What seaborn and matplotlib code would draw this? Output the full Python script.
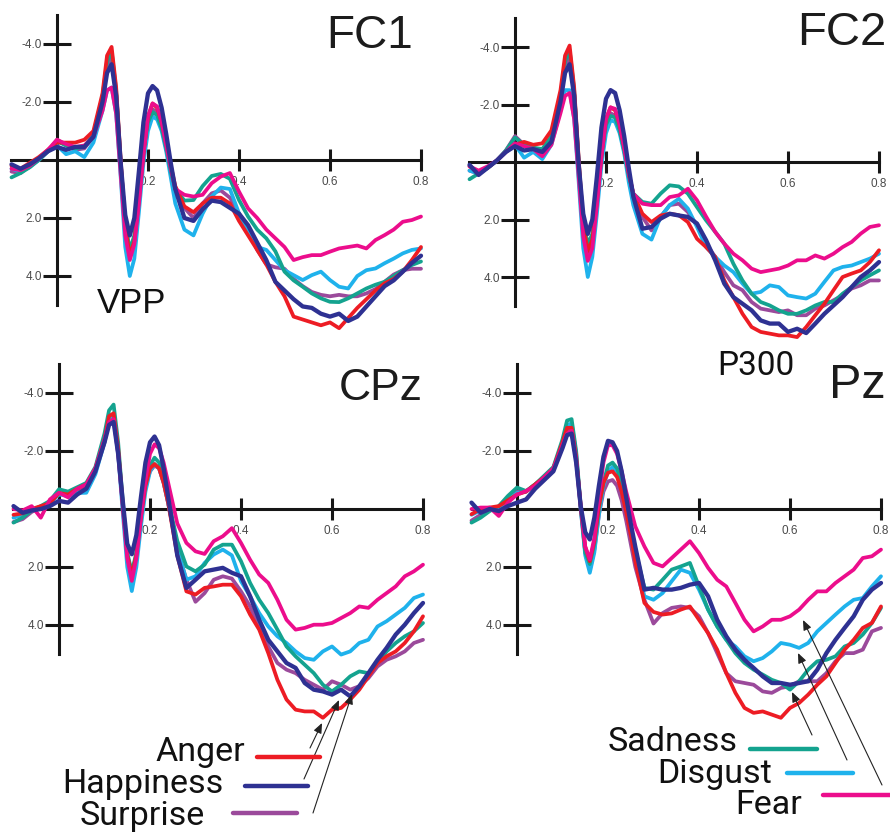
import matplotlib
matplotlib.use("Agg")
import matplotlib.pyplot as plt
import seaborn as sns
from matplotlib.lines import Line2D
from matplotlib.patches import FancyArrowPatch

sns.set_theme(style="ticks")
plt.rcParams['font.family'] = ['Liberation Sans', 'DejaVu Sans']

# ---------------------------------------------------------------- data
# time in seconds (stimulus onset at 0)
TIME = [-0.10, -0.08, -0.06, -0.04, -0.02, 0.00, 0.02, 0.04, 0.06, 0.08,
        0.10, 0.11, 0.12, 0.13, 0.14, 0.15, 0.16, 0.17, 0.18, 0.19, 0.20, 0.21, 0.22, 0.23, 0.24, 0.25, 0.26,
        0.28, 0.30, 0.32, 0.34, 0.36, 0.38, 0.40, 0.42, 0.44, 0.46, 0.48, 0.50, 0.52, 0.54, 0.56, 0.58,
        0.60, 0.62, 0.64, 0.66, 0.68, 0.70, 0.72, 0.74, 0.76, 0.78, 0.80]

EMOTIONS = ["Surprise", "Disgust", "Sadness", "Anger", "Fear", "Happiness"]
COLORS = {"Anger": "#ED1C24", "Happiness": "#2E3192", "Surprise": "#9B4A9B",
          "Sadness": "#14A38F", "Disgust": "#1FB2EC", "Fear": "#EC0D8C"}

# amplitudes in microvolts (negative plotted upward)
FC1_ANGER = [0.2, 0.3, 0.1, -0.1, -0.35, -0.6, -0.6, -0.6, -0.7, -1.0,
             -2.3, -3.6, -3.9, -2.5, 0.0, 2.3, 3.3, 2.8, 1.4, -0.2, -1.5, -1.95, -1.8, -1.3, -0.6, 0.2, 0.9,
             1.6, 1.8, 1.5, 1.3, 1.3, 1.5, 2.1, 2.6, 3.1, 3.6, 4.2, 4.7, 5.4, 5.5, 5.6, 5.7,
             5.6, 5.8, 5.45, 5.1, 4.8, 4.5, 4.25, 4.1, 3.85, 3.45, 3.0]
FC1_HAPPINESS = [0.15, 0.3, 0.15, -0.05, -0.3, -0.45, -0.35, -0.45, -0.45, -0.8,
                 -2.0, -3.0, -3.3, -2.2, 0.1, 1.9, 2.6, 2.0, 0.4, -1.3, -2.3, -2.55, -2.4, -1.8, -0.9, 0.1, 1.0,
                 2.0, 2.1, 1.7, 1.4, 1.45, 1.65, 1.85, 2.25, 2.85, 3.45, 4.2, 4.5, 4.8, 5.05, 5.1, 5.3,
                 5.4, 5.3, 5.55, 5.4, 5.05, 4.7, 4.35, 4.15, 3.85, 3.55, 3.3]
FC1_SURPRISE = [0.4, 0.45, 0.2, 0.0, -0.3, -0.7, -0.5, -0.35, -0.4, -0.8,
                -2.1, -3.2, -3.5, -2.3, 0.1, 2.2, 3.2, 2.7, 1.3, -0.2, -1.3, -1.75, -1.65, -1.2, -0.5, 0.3, 1.0,
                1.65, 2.0, 1.5, 1.15, 1.05, 1.3, 1.85, 2.4, 3.1, 3.6, 3.7, 3.75, 4.1, 4.35, 4.55, 4.65,
                4.7, 4.65, 4.7, 4.7, 4.6, 4.45, 4.2, 3.95, 3.8, 3.75, 3.75]
FC1_SADNESS = [0.6, 0.45, 0.25, 0.0, -0.3, -0.65, -0.5, -0.4, -0.45, -0.9,
               -2.2, -3.4, -3.75, -2.4, 0.1, 2.2, 3.1, 2.6, 1.2, -0.3, -1.3, -1.65, -1.55, -1.1, -0.4, 0.4, 1.0,
               1.4, 1.38, 0.9, 0.55, 0.48, 0.65, 1.38, 1.95, 2.4, 2.7, 3.15, 3.85, 4.15, 4.37, 4.6, 4.77,
               4.89, 4.9, 4.77, 4.6, 4.43, 4.3, 4.2, 4.0, 3.8, 3.62, 3.5]
FC1_DISGUST = [0.3, 0.4, 0.25, 0.0, -0.3, -0.5, -0.2, -0.3, -0.1, -0.6,
               -1.7, -2.4, -2.5, -1.6, 0.6, 3.0, 4.0, 3.4, 1.8, 0.1, -1.0, -1.5, -1.4, -1.0, -0.3, 0.6, 1.5,
               2.4, 2.6, 1.85, 1.26, 0.95, 1.0, 1.84, 2.5, 3.0, 3.1, 3.45, 3.8, 3.97, 4.14, 3.97, 3.85,
               4.14, 4.37, 4.43, 4.0, 3.8, 3.74, 3.56, 3.4, 3.22, 3.1, 3.05]
FC1_FEAR = [0.3, 0.35, 0.2, -0.05, -0.35, -0.7, -0.55, -0.45, -0.5, -0.8,
            -1.7, -2.4, -2.5, -1.6, 0.5, 2.6, 3.45, 2.9, 1.5, -0.2, -1.5, -1.95, -1.85, -1.3, -0.5, 0.3, 1.0,
            1.2, 1.26, 1.2, 0.8, 0.57, 0.45, 1.09, 1.67, 2.0, 2.4, 2.7, 3.0, 3.45, 3.35, 3.28, 3.28,
            3.16, 3.05, 3.0, 2.95, 3.05, 2.76, 2.59, 2.4, 2.13, 2.07, 1.95]

FC2_ANGER = [0.15, 0.35, 0.2, -0.05, -0.35, -0.6, -0.7, -0.6, -0.65, -1.1,
             -2.5, -3.7, -4.05, -2.6, -0.1, 2.2, 3.1, 2.7, 1.4, -0.2, -1.5, -1.9, -1.8, -1.3, -0.5, 0.4, 1.1,
             1.8, 2.09, 1.86, 1.8, 1.85, 2.09, 2.67, 2.96, 3.3, 4.12, 4.7, 5.28, 5.74, 5.91, 5.97, 6.03,
             6.03, 6.09, 5.74, 5.33, 4.93, 4.46, 4.0, 3.88, 3.77, 3.48, 3.07]
FC2_HAPPINESS = [0.1, 0.45, 0.2, -0.05, -0.35, -0.55, -0.4, -0.45, -0.35, -0.7,
                 -2.1, -3.1, -3.4, -2.3, 0.1, 1.8, 2.5, 2.0, 0.5, -1.2, -2.2, -2.5, -2.4, -1.8, -0.9, 0.2, 1.2,
                 2.32, 2.26, 1.97, 1.8, 1.86, 1.91, 2.14, 2.72, 3.42, 4.23, 4.7, 4.93, 5.16, 5.51, 5.62, 5.62,
                 5.91, 5.8, 5.95, 5.62, 5.28, 4.99, 4.7, 4.35, 4.0, 3.77, 3.48]
FC2_SURPRISE = [0.3, 0.4, 0.2, -0.05, -0.4, -0.9, -0.6, -0.45, -0.4, -0.8,
                -2.2, -3.3, -3.6, -2.4, 0.1, 2.2, 3.2, 2.8, 1.4, -0.1, -1.3, -1.7, -1.6, -1.2, -0.4, 0.5, 1.2,
                1.91, 2.38, 1.91, 1.5, 1.45, 1.74, 2.2, 2.84, 3.3, 3.83, 4.29, 4.46, 4.87, 5.1, 5.16, 5.22,
                5.16, 5.33, 5.33, 5.1, 4.99, 4.81, 4.64, 4.4, 4.29, 4.12, 4.12]
FC2_SADNESS = [0.6, 0.4, 0.2, -0.05, -0.4, -0.85, -0.6, -0.5, -0.45, -0.9,
               -2.3, -3.5, -3.9, -2.5, 0.0, 2.1, 2.86, 2.5, 1.3, -0.2, -1.3, -1.6, -1.55, -1.1, -0.4, 0.5, 1.1,
               1.39, 1.45, 1.1, 0.81, 0.85, 1.1, 1.57, 2.03, 2.43, 2.84, 3.54, 4.12, 4.58, 4.87, 4.99, 5.16,
               5.28, 5.28, 5.16, 4.99, 4.87, 4.87, 4.58, 4.35, 4.12, 3.94, 3.77]
FC2_DISGUST = [0.3, 0.4, 0.2, -0.05, -0.35, -0.6, -0.15, -0.35, -0.1, -0.6,
               -1.8, -2.5, -2.5, -1.5, 0.7, 3.0, 4.0, 3.3, 1.8, 0.1, -1.0, -1.45, -1.4, -1.0, -0.3, 0.7, 1.5,
               2.5, 2.7, 1.91, 1.5, 1.28, 1.62, 2.26, 2.96, 3.3, 3.6, 3.83, 4.23, 4.58, 4.52, 4.29, 4.35,
               4.64, 4.7, 4.75, 4.58, 4.17, 3.77, 3.65, 3.6, 3.48, 3.36, 3.19]
FC2_FEAR = [0.15, 0.3, 0.15, -0.05, -0.35, -0.65, -0.55, -0.45, -0.2, -0.6,
            -1.7, -2.3, -2.4, -1.5, 0.5, 2.6, 3.44, 3.0, 1.5, -0.2, -1.5, -1.9, -1.85, -1.3, -0.5, 0.4, 1.1,
            1.45, 1.5, 1.5, 1.22, 1.16, 0.93, 1.33, 1.9, 2.43, 2.84, 3.19, 3.42, 3.71, 3.83, 3.77, 3.71,
            3.6, 3.42, 3.42, 3.25, 3.36, 3.19, 2.96, 2.78, 2.49, 2.26, 2.2]

CPZ_ANGER = [0.2, 0.15, 0.0, -0.1, -0.2, -0.55, -0.5, -0.7, -0.85, -1.4,
             -2.4, -3.2, -3.3, -2.1, -0.2, 1.6, 2.3, 1.6, 0.3, -0.8, -1.4, -1.55, -1.4, -0.9, -0.2, 0.7, 1.6,
             2.84, 2.95, 2.72, 2.67, 2.61, 2.61, 3.01, 3.64, 4.16, 4.97, 5.89, 6.57, 6.92, 6.98, 6.98, 7.2,
             6.92, 6.86, 6.57, 6.23, 5.77, 5.31, 5.08, 4.91, 4.62, 4.22, 3.7]
CPZ_HAPPINESS = [-0.1, 0.13, 0.05, 0.0, -0.1, -0.28, -0.22, -0.5, -0.7, -1.3,
                 -2.3, -2.9, -3.0, -1.9, -0.3, 1.2, 1.56, 0.9, -0.4, -1.6, -2.3, -2.5, -2.2, -1.4, -0.4, 0.6, 1.6,
                 2.72, 2.44, 2.15, 2.09, 2.03, 2.2, 2.32, 3.01, 3.82, 4.51, 4.91, 5.31, 5.48, 6.0, 6.23, 6.29,
                 6.4, 6.23, 6.46, 6.11, 5.66, 5.2, 4.79, 4.33, 3.99, 3.59, 3.24]
CPZ_SURPRISE = [0.45, 0.35, 0.1, -0.05, -0.2, -0.55, -0.45, -0.65, -0.8, -1.35,
                -2.3, -3.1, -3.2, -2.0, -0.1, 1.6, 2.2, 1.6, 0.3, -0.8, -1.3, -1.5, -1.4, -0.9, -0.2, 0.6, 1.4,
                2.44, 3.2, 2.9, 2.44, 2.32, 2.4, 2.84, 3.36, 4.1, 4.74, 5.31, 5.54, 5.66, 5.89, 6.06, 6.23,
                5.94, 6.06, 6.23, 6.11, 5.83, 5.43, 5.2, 5.08, 4.91, 4.62, 4.51]
CPZ_SADNESS = [0.47, 0.3, 0.05, -0.1, -0.28, -0.68, -0.6, -0.75, -0.9, -1.45,
               -2.6, -3.4, -3.6, -2.3, -0.3, 1.5, 2.2, 1.5, 0.2, -0.9, -1.5, -1.77, -1.6, -1.1, -0.4, 0.4, 1.1,
               1.98, 2.15, 1.92, 1.4, 1.23, 1.23, 1.8, 2.55, 3.13, 3.59, 4.16, 4.74, 5.08, 5.37, 5.66, 6.06,
               6.29, 6.06, 5.77, 5.6, 5.66, 5.31, 4.91, 4.62, 4.39, 4.22, 3.93]
CPZ_DISGUST = [0.3, 0.2, 0.05, -0.05, -0.2, -0.5, -0.45, -0.55, -0.56, -1.2,
               -2.3, -3.1, -3.2, -1.9, 0.1, 2.0, 2.83, 2.0, 0.6, -0.6, -1.3, -1.55, -1.4, -0.9, -0.2, 0.6, 1.4,
               2.44, 2.32, 1.86, 1.57, 1.4, 1.6, 2.49, 3.01, 3.59, 4.05, 4.39, 4.62, 4.91, 5.14, 5.2, 4.91,
               4.74, 5.02, 4.91, 4.62, 4.51, 4.05, 3.87, 3.64, 3.41, 3.07, 2.95]
CPZ_FEAR = [0.0, 0.05, -0.1, 0.3, -0.33, -0.56, -0.4, -0.7, -0.85, -1.4,
            -2.4, -3.0, -3.1, -1.9, -0.1, 1.7, 2.48, 1.7, 0.3, -1.0, -1.9, -2.23, -2.1, -1.6, -0.9, -0.2, 0.5,
            1.17, 1.46, 1.55, 1.11, 0.94, 0.66, 1.17, 1.75, 2.26, 2.55, 3.13, 3.82, 4.16, 4.1, 3.99, 3.99,
            3.93, 3.76, 3.59, 3.36, 3.41, 3.13, 2.9, 2.67, 2.32, 2.15, 1.92]

PZ_ANGER = [0.18, 0.0, -0.05, -0.1, -0.3, -0.5, -0.6, -0.85, -1.1, -1.4,
            -2.3, -2.8, -2.8, -1.8, -0.1, 1.3, 1.8, 1.1, -0.1, -0.9, -1.25, -1.3, -1.1, -0.6, 0.1, 0.9, 1.8,
            3.24, 3.55, 3.64, 3.6, 3.47, 3.36, 3.82, 4.28, 4.85, 5.66, 6.34, 6.86, 7.03, 6.98, 7.09, 7.2,
            6.86, 6.69, 6.4, 6.06, 5.77, 5.31, 4.85, 4.51, 4.1, 3.93, 3.36]
PZ_HAPPINESS = [-0.22, 0.13, 0.0, 0.07, -0.1, -0.22, -0.33, -0.7, -1.0, -1.3,
                -2.1, -2.55, -2.6, -1.6, -0.1, 0.8, 1.05, 0.3, -0.8, -1.8, -2.35, -2.3, -2.0, -1.3, -0.4, 0.5, 1.3,
                2.78, 2.72, 2.78, 2.78, 2.72, 2.61, 2.55, 3.01, 3.82, 4.39, 4.85, 5.2, 5.48, 5.77, 6.0, 6.0,
                6.06, 6.0, 5.94, 5.54, 4.97, 4.51, 4.1, 3.7, 3.13, 2.78, 2.55]
PZ_SURPRISE = [0.4, 0.2, 0.0, -0.05, -0.3, -0.6, -0.6, -0.85, -1.1, -1.4,
               -2.2, -2.7, -2.7, -1.7, 0.0, 1.5, 2.1, 1.4, 0.2, -0.6, -0.95, -1.0, -0.8, -0.3, 0.4, 1.2, 2.0,
               3.13, 3.95, 3.59, 3.41, 3.36, 3.41, 3.7, 4.28, 4.97, 5.66, 5.94, 6.0, 6.06, 6.29, 6.34, 6.17,
               6.11, 5.94, 5.94, 5.94, 5.66, 5.25, 4.97, 4.97, 4.85, 4.22, 4.1]
PZ_SADNESS = [0.47, 0.3, 0.07, -0.1, -0.45, -0.74, -0.62, -0.85, -1.15, -1.45,
              -2.4, -3.05, -3.1, -2.0, -0.1, 1.5, 1.9, 1.2, 0.0, -0.9, -1.5, -1.6, -1.4, -0.9, -0.2, 0.6, 1.4,
              2.72, 2.78, 2.44, 2.09, 1.98, 1.86, 2.67, 3.47, 4.05, 4.51, 4.97, 5.31, 5.54, 5.71, 5.89, 6.0,
              6.23, 5.94, 5.54, 5.25, 5.2, 5.08, 4.74, 4.62, 4.33, 3.93, 3.41]
PZ_DISGUST = [0.2, 0.05, 0.0, -0.05, -0.3, -0.55, -0.6, -0.85, -1.1, -1.4,
              -2.3, -2.9, -2.95, -1.9, 0.0, 1.6, 2.2, 1.5, 0.2, -0.8, -1.3, -1.45, -1.3, -0.8, -0.1, 0.8, 1.7,
              3.01, 3.13, 2.9, 2.49, 2.09, 2.2, 2.78, 3.47, 4.05, 4.51, 4.74, 5.08, 5.25, 5.14, 4.91, 4.62,
              4.68, 4.79, 4.62, 4.22, 3.93, 3.64, 3.36, 3.13, 3.07, 2.67, 2.32]
PZ_FEAR = [0.0, -0.05, -0.05, 0.24, -0.22, -0.5, -0.62, -0.8, -1.1, -1.4,
           -2.2, -2.6, -2.7, -1.7, -0.1, 1.3, 1.74, 1.0, -0.4, -1.6, -2.2, -2.2, -1.9, -1.3, -0.6, 0.0, 0.6,
           1.29, 1.86, 1.98, 1.69, 1.4, 1.11, 1.52, 2.03, 2.44, 2.67, 3.24, 3.82, 4.22, 4.05, 3.82, 3.82,
           3.7, 3.47, 3.13, 2.84, 2.84, 2.55, 2.32, 2.09, 1.69, 1.63, 1.4]

PANELS = {
    "FC1": {"Anger": FC1_ANGER, "Happiness": FC1_HAPPINESS, "Surprise": FC1_SURPRISE,
            "Sadness": FC1_SADNESS, "Disgust": FC1_DISGUST, "Fear": FC1_FEAR},
    "FC2": {"Anger": FC2_ANGER, "Happiness": FC2_HAPPINESS, "Surprise": FC2_SURPRISE,
            "Sadness": FC2_SADNESS, "Disgust": FC2_DISGUST, "Fear": FC2_FEAR},
    "CPz": {"Anger": CPZ_ANGER, "Happiness": CPZ_HAPPINESS, "Surprise": CPZ_SURPRISE,
            "Sadness": CPZ_SADNESS, "Disgust": CPZ_DISGUST, "Fear": CPZ_FEAR},
    "Pz": {"Anger": PZ_ANGER, "Happiness": PZ_HAPPINESS, "Surprise": PZ_SURPRISE,
           "Sadness": PZ_SADNESS, "Disgust": PZ_DISGUST, "Fear": PZ_FEAR},
}

X_TICKS = [0.2, 0.4, 0.6, 0.8]
X_TICK_LABELS = ["0.2", "0.4", "0.6", "0.8"]
Y_TICKS = [-4, -2, 2, 4]
Y_TICK_LABELS = ["-4.0", "-2.0", "2.0", "4.0"]

# ---------------------------------------------------------------- layout
W, H = 890, 834
fig = plt.figure(figsize=(W / 100, H / 100), dpi=100)
fig.patch.set_facecolor("white")


def fx(x):
    return x / W


def fy(y):
    return 1 - y / H


PX_PER_SEC = 455.0
XLIM = (-0.12, 0.84)
VLIM = (-5.4, 7.8)

# origin pixel of every panel and its vertical scale (px per microvolt)
PANEL_GEOM = {
    "FC1": (57, 160, 29.0),
    "FC2": (515, 162, 28.75),
    "CPz": (59, 509, 29.0),
    "Pz": (517, 509, 29.0),
}

DRAW_WIDTH = {"Happiness": 3.1}

for name, (x0, y0, sy) in PANEL_GEOM.items():
    left = x0 + XLIM[0] * PX_PER_SEC
    width = (XLIM[1] - XLIM[0]) * PX_PER_SEC
    top = y0 + VLIM[0] * sy
    height = (VLIM[1] - VLIM[0]) * sy
    ax = fig.add_axes([fx(left), fy(top + height), width / W, height / H])
    ax.patch.set_alpha(0)
    ax.set_xlim(*XLIM)
    ax.set_ylim(VLIM[1], VLIM[0])

    for emo in EMOTIONS:
        sns.lineplot(x=TIME, y=PANELS[name][emo], color=COLORS[emo],
                     linewidth=DRAW_WIDTH.get(emo, 2.7), estimator=None,
                     sort=False, ax=ax)
        ln = ax.lines[-1]
        ln.set_solid_joinstyle("round")
        ln.set_solid_capstyle("round")

    for side in ("top", "right"):
        ax.spines[side].set_visible(False)
    ax.spines["left"].set_position(("data", 0))
    ax.spines["bottom"].set_position(("data", 0))
    ax.spines["left"].set_bounds(-5, 5)
    ax.spines["bottom"].set_bounds(-0.1, 0.8)
    for side in ("left", "bottom"):
        ax.spines[side].set_linewidth(2.2)
        ax.spines[side].set_color("#161616")
        ax.spines[side].set_zorder(1)
    ax.set_axisbelow(True)

    ax.set_xticks(X_TICKS, labels=X_TICK_LABELS)
    ax.set_yticks(Y_TICKS, labels=Y_TICK_LABELS)
    ax.tick_params(axis="x", bottom=True, direction="inout", length=16.5, width=2.2,
                   color="#161616", pad=3.0, labelsize=8.5, labelcolor="#4a4a4a")
    ax.tick_params(axis="y", left=True, direction="inout", length=19.5, width=2.2,
                   color="#161616", pad=1.2, labelsize=8.5, labelcolor="#4a4a4a")
    ax.set_xlabel("")
    ax.set_ylabel("")

# ---------------------------------------------------------------- titles
TITLE_COLOR = "#1c1c1c"
fig.text(fx(413), fy(48), "FC1", ha="right", va="baseline", fontsize=33, color=TITLE_COLOR)
fig.text(fx(886), fy(45), "FC2", ha="right", va="baseline", fontsize=34, color=TITLE_COLOR)
fig.text(fx(423), fy(400), "CPz", ha="right", va="baseline", fontsize=32, color=TITLE_COLOR)
fig.text(fx(886), fy(398), "Pz", ha="right", va="baseline", fontsize=35, color=TITLE_COLOR)

fig.text(fx(97), fy(313), "VPP", ha="left", va="baseline", fontsize=25, color="#111111")
fig.text(fx(717), fy(375), "P300", ha="left", va="baseline", fontsize=24,
         family=["Roboto", "DejaVu Sans"], color="#111111")

# ---------------------------------------------------------------- legend keys with pointers
LEGEND_ITEMS = [
    # label, text right edge, baseline, key x-start, key x-end, key y, arrow tail, arrow head
    ("Anger", 245, 761, 257, 320, 757, (310, 748), (322, 723)),
    ("Happiness", 223, 793, 245, 308, 786, (304, 779), (339, 700)),
    ("Surprise", 205, 825, 233, 297, 813, (313, 813), (352, 694)),
    ("Sadness", 738, 751, 750, 817, 749, (812, 735), (792, 692)),
    ("Disgust", 772, 783, 787, 853, 773, (847, 760), (798, 653)),
    ("Fear", 802, 814, 823, 892, 795, (882, 785), (803, 620)),
]

for label, tx, tb, kx0, kx1, ky, tail, head in LEGEND_ITEMS:
    fig.text(fx(tx), fy(tb), label, ha="right", va="baseline", fontsize=24.5,
             family=["Roboto", "DejaVu Sans"], color="#111111")
    fig.add_artist(Line2D([fx(kx0), fx(kx1)], [fy(ky), fy(ky)], transform=fig.transFigure,
                          color=COLORS[label], linewidth=3.2, solid_capstyle="round"))
    fig.add_artist(FancyArrowPatch((fx(tail[0]), fy(tail[1])), (fx(head[0]), fy(head[1])),
                                   transform=fig.transFigure,
                                   arrowstyle="-|>,head_length=0.6,head_width=0.25",
                                   mutation_scale=10, linewidth=0.8, color="#222222",
                                   shrinkA=0, shrinkB=0))

fig.savefig("out.png", dpi=100, facecolor="white")
